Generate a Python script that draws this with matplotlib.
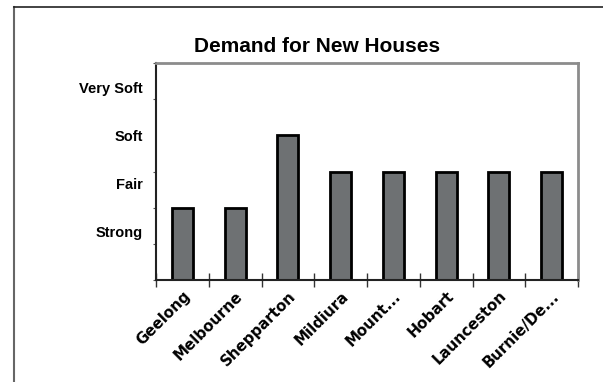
import numpy as np
import matplotlib.pyplot as plt
from matplotlib.lines import Line2D

# data (0 = bottom of axis, 6 = top)
cities = ['Geelong', 'Melbourne', 'Shepparton', 'Mildiura', 'Mount...',
          'Hobart', 'Launceston', 'Burnie/De...']
demand = [2, 2, 4, 3, 3, 3, 3, 3]
level_labels = ['Strong', 'Fair', 'Soft', 'Very Soft']
level_pos = [4/3, 8/3, 4, 16/3]

plt.rcParams['font.family'] = ['Liberation Sans', 'DejaVu Sans']

fig = plt.figure(figsize=(6.03, 3.82), dpi=100)
ax = fig.add_axes([156/603, 1 - 280/382, 422/603, 217/382])

x = np.arange(len(cities))
ax.bar(x, demand, width=0.4, color='#6e7173', edgecolor='black', linewidth=2)

ax.set_xlim(-0.5, len(cities) - 0.5)
ax.set_ylim(0, 6)

# y: tiny marks at each unit, text labels in between
ax.set_yticks(np.arange(0, 7), minor=True)
ax.set_yticks(level_pos)
ax.set_yticklabels(level_labels, fontsize=10.5, fontweight='bold')
ax.tick_params(axis='y', which='major', length=0, pad=9.5)
ax.tick_params(axis='y', which='minor', length=2, width=0.8, color='#555555')

# x: ticks between categories, crossing the axis
ax.set_xticks(np.arange(-0.5, len(cities), 1), minor=True)
ax.set_xticks(x)
ax.set_xticklabels(cities, rotation=45, ha='right', rotation_mode='anchor',
                   fontsize=10.8, fontweight='bold', family='DejaVu Sans')
ax.tick_params(axis='x', which='major', length=0, pad=6)
ax.tick_params(axis='x', which='minor', length=10, width=1, direction='inout', color='#333333')

for s in ['left', 'bottom']:
    ax.spines[s].set_color('#222222')
    ax.spines[s].set_linewidth(1.5)
for s in ['top', 'right']:
    ax.spines[s].set_color('#8c8c8c')
    ax.spines[s].set_linewidth(2)

fig.text(317/603, 1 - 46/382, 'Demand for New Houses', ha='center', va='center',
         fontsize=15, fontweight='bold')

# outer chart frame (only left and top edges show)
fig.add_artist(Line2D([14/603, 14/603], [0, 1 - 7/382], transform=fig.transFigure,
                      color='#666666', linewidth=1.5))
fig.add_artist(Line2D([14/603, 1], [1 - 7/382, 1 - 7/382], transform=fig.transFigure,
                      color='#222222', linewidth=1.2))

fig.savefig('out.png', dpi=100)
